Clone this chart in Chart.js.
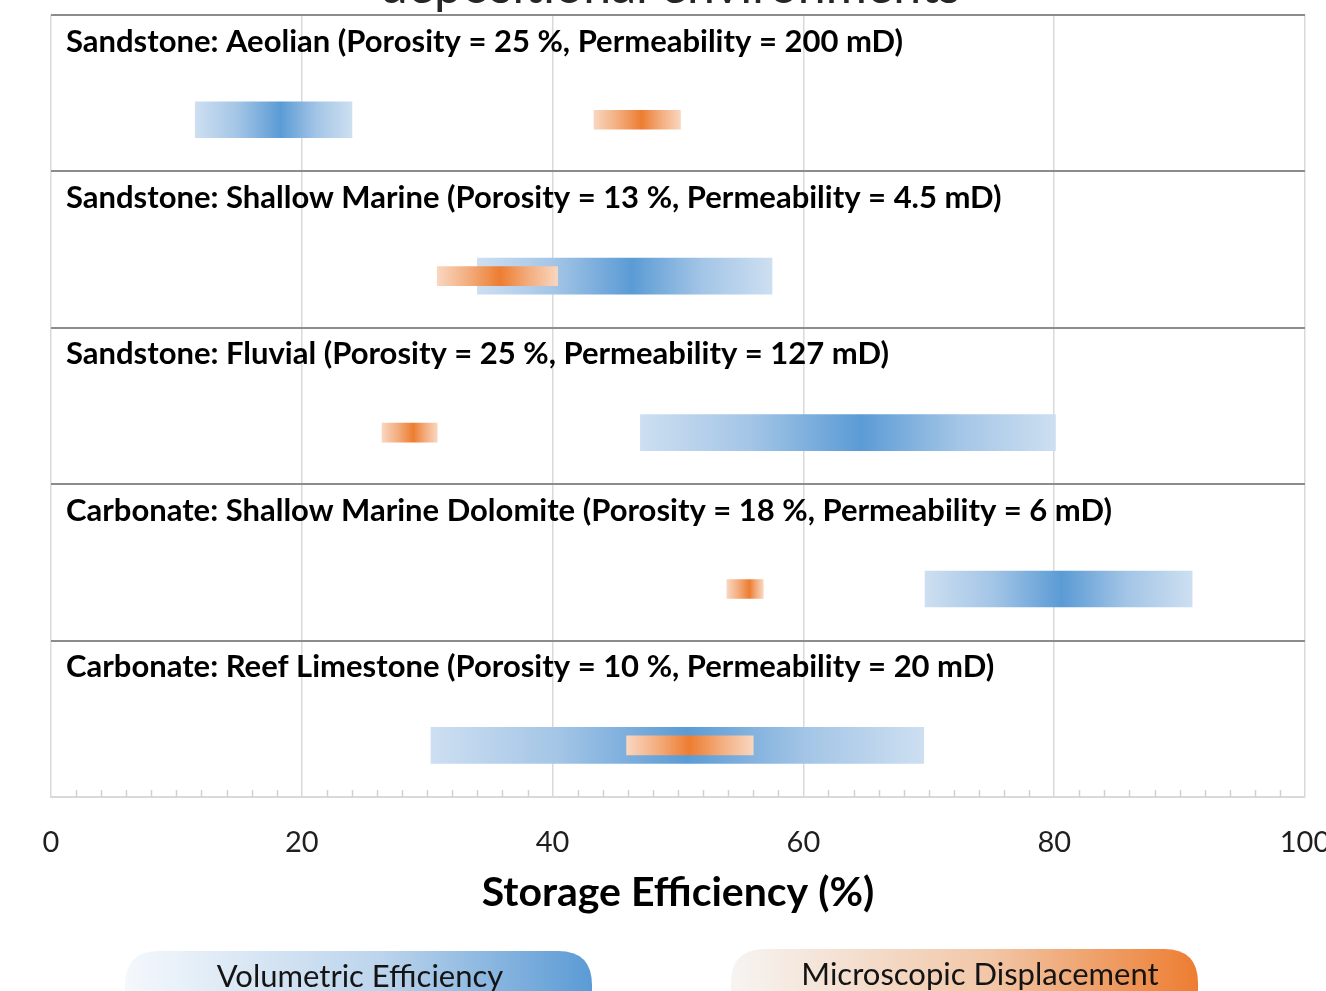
<!DOCTYPE html>
<html>
<head>
<meta charset="utf-8">
<script src="https://cdn.jsdelivr.net/npm/chart.js@4.4.1/dist/chart.umd.min.js"></script>
<style>
  html, body { margin: 0; padding: 0; background: #ffffff; }
  canvas { display: block; }
</style>
</head>
<body>
<canvas id="chart" width="1326" height="991"></canvas>
<script>
// Storage efficiency ranges by depositional environment
const chartTitle = 'depositional environments';
const categories = [
  'Sandstone: Aeolian (Porosity = 25 %, Permeability = 200 mD)',
  'Sandstone: Shallow Marine (Porosity = 13 %, Permeability = 4.5 mD)',
  'Sandstone: Fluvial (Porosity = 25 %, Permeability = 127 mD)',
  'Carbonate: Shallow Marine Dolomite (Porosity = 18 %, Permeability = 6 mD)',
  'Carbonate: Reef Limestone (Porosity = 10 %, Permeability = 20 mD)'
];

// Volumetric efficiency: low / most likely / high (%)
const volumetricLow  = [11.5, 34.0, 47.0, 69.7, 30.3];
const volumetricMode = [18.3, 46.3, 64.6, 80.6, 50.7];
const volumetricHigh = [24.0, 57.5, 80.1, 91.0, 69.6];

// Microscopic displacement efficiency: low / most likely / high (%)
const displacementLow  = [43.3, 30.8, 26.4, 53.9, 45.9];
const displacementMode = [47.1, 35.8, 28.9, 55.7, 50.9];
const displacementHigh = [50.2, 40.4, 30.8, 56.8, 56.0];

const xTickValues = [0, 20, 40, 60, 80, 100];
const axisTitle = 'Storage Efficiency (%)';
const seriesNames = ['Volumetric Efficiency', 'Microscopic Displacement'];

// layout of each row: label near the top, bar in the lower part
const BAR_ROW_OFFSET = 0.67;
const LABEL_ROW_OFFSET = 0.17;

const BLUE = { light: '#cddff1', mid: '#a3c5e6', dark: '#5b9bd5' };
const ORANGE = { light: '#f9d6bf', mid: '#f3ad7e', dark: '#ed7d31' };

function rowPoints(low, high) {
  return low.map((v, i) => ({ x: [v, high[i]], y: i + BAR_ROW_OFFSET }));
}

// horizontal gradient per bar, darkest at the most likely value
function barFill(low, mode, high, pal) {
  return (c) => {
    const chart = c.chart;
    if (c.type !== 'data' || !chart.chartArea) return pal.dark;
    const i = c.dataIndex;
    const xs = chart.scales.x;
    const x0 = xs.getPixelForValue(low[i]);
    const x1 = xs.getPixelForValue(high[i]);
    const p = (mode[i] - low[i]) / (high[i] - low[i]);
    const g = chart.ctx.createLinearGradient(x0, 0, x1, 0);
    g.addColorStop(0, pal.light);
    g.addColorStop(p * 0.5, pal.mid);
    g.addColorStop(p, pal.dark);
    g.addColorStop(p + (1 - p) * 0.5, pal.mid);
    g.addColorStop(1, pal.light);
    return g;
  };
}

function textAt(ctx, text, x, y, font, color, align, baseline) {
  ctx.save();
  ctx.font = font;
  ctx.fillStyle = color;
  ctx.textAlign = align;
  ctx.textBaseline = baseline;
  ctx.fillText(text, x, y);
  ctx.restore();
}

function roundedPill(ctx, x, y, w, h, r) {
  ctx.beginPath();
  ctx.moveTo(x + r, y);
  ctx.lineTo(x + w - r, y);
  ctx.quadraticCurveTo(x + w, y, x + w, y + r);
  ctx.lineTo(x + w, y + h - r);
  ctx.quadraticCurveTo(x + w, y + h, x + w - r, y + h);
  ctx.lineTo(x + r, y + h);
  ctx.quadraticCurveTo(x, y + h, x, y + h - r);
  ctx.lineTo(x, y + r);
  ctx.quadraticCurveTo(x, y, x + r, y);
  ctx.closePath();
}

const decorations = {
  id: 'decorations',
  beforeDatasetsDraw(chart) {
    // minor tick marks along the value axis
    const ctx = chart.ctx;
    const xs = chart.scales.x;
    const bottom = chart.chartArea.bottom;
    ctx.save();
    ctx.strokeStyle = '#d0d0d0';
    ctx.lineWidth = 1.5;
    for (let v = xs.min + 2; v < xs.max; v += 2) {
      if (v % 20 === 0) continue;
      const px = Math.round(xs.getPixelForValue(v)) + 0.5;
      ctx.beginPath();
      ctx.moveTo(px, bottom - 7);
      ctx.lineTo(px, bottom);
      ctx.stroke();
    }
    ctx.restore();
  },
  afterDraw(chart) {
    const ctx = chart.ctx;
    const ys = chart.scales.y;
    const area = chart.chartArea;
    const cx = (area.left + area.right) / 2;

    // chart title, mostly above the top edge of the page
    textAt(ctx, chartTitle, cx - 8, 3, '50px Lato', '#262626', 'center', 'alphabetic');

    // environment labels inside each row
    categories.forEach((label, i) => {
      const y = ys.getPixelForValue(i + LABEL_ROW_OFFSET);
      textAt(ctx, label, area.left + 15, y, 'bold 31px Lato', '#000000', 'left', 'middle');
    });

    // legend pills at the foot of the chart
    const pills = [
      { x: 125, w: 467, top: 951, textX: 360, from: '#f4f8fc', mid: '#bcd4ec', to: '#5b9bd5', name: seriesNames[0] },
      { x: 731, w: 467, top: 949, textX: 980, from: '#f6f4f2', mid: '#f2c7a8', to: '#ed7d31', name: seriesNames[1] }
    ];
    pills.forEach(p => {
      const g = ctx.createLinearGradient(p.x, 0, p.x + p.w, 0);
      g.addColorStop(0, p.from);
      g.addColorStop(0.55, p.mid);
      g.addColorStop(1, p.to);
      ctx.save();
      roundedPill(ctx, p.x, p.top, p.w, 80, 34);
      ctx.fillStyle = g;
      ctx.fill();
      ctx.restore();
      textAt(ctx, p.name, p.textX, p.top + 36, '31px Lato', '#141414', 'center', 'alphabetic');
    });
  }
};

new Chart(document.getElementById('chart'), {
  type: 'bar',
  data: {
    datasets: [
      {
        label: seriesNames[0],
        data: rowPoints(volumetricLow, volumetricHigh),
        backgroundColor: barFill(volumetricLow, volumetricMode, volumetricHigh, BLUE),
        borderWidth: 0,
        borderSkipped: false,
        barThickness: 36,
        grouped: false,
        order: 2
      },
      {
        label: seriesNames[1],
        data: rowPoints(displacementLow, displacementHigh),
        backgroundColor: barFill(displacementLow, displacementMode, displacementHigh, ORANGE),
        borderWidth: 0,
        borderSkipped: false,
        barThickness: 19,
        grouped: false,
        order: 1
      }
    ]
  },
  options: {
    indexAxis: 'y',
    responsive: false,
    animation: false,
    events: [],
    layout: { padding: { left: 51, right: 21, top: 15, bottom: 64 } },
    plugins: {
      legend: { display: false },
      tooltip: { enabled: false },
      title: { display: false }
    },
    scales: {
      x: {
        type: 'linear',
        position: 'bottom',
        min: 0,
        max: 100,
        afterBuildTicks: (s) => { s.ticks = xTickValues.map(v => ({ value: v })); },
        afterFit: (s) => { s.height = 130; s.paddingLeft = 0; s.paddingRight = 0; },
        grid: { color: '#d9d9d9', lineWidth: 1.5, drawTicks: false },
        border: { display: true, color: '#d9d9d9', width: 2 },
        ticks: {
          padding: 28,
          color: '#1f1f1f',
          font: { family: 'Lato', size: 29 },
          maxRotation: 0
        },
        title: {
          display: true,
          text: axisTitle,
          color: '#000000',
          font: { family: 'Lato', size: 41, weight: 'bold' },
          padding: { top: 0, bottom: 10 }
        }
      },
      y: {
        type: 'linear',
        reverse: true,
        offset: false,
        min: 0,
        max: categories.length,
        afterBuildTicks: (s) => { s.ticks = categories.map((_, i) => ({ value: i })).concat([{ value: categories.length }]); },
        afterFit: (s) => { s.width = 0; },
        ticks: { display: false },
        grid: {
          offset: false,
          color: (c) => (c.tick && c.tick.value === categories.length ? '#d9d9d9' : '#8c8c8c'),
          lineWidth: 2,
          drawTicks: false
        },
        border: { display: false }
      }
    }
  },
  plugins: [decorations]
});
</script>
</body>
</html>
